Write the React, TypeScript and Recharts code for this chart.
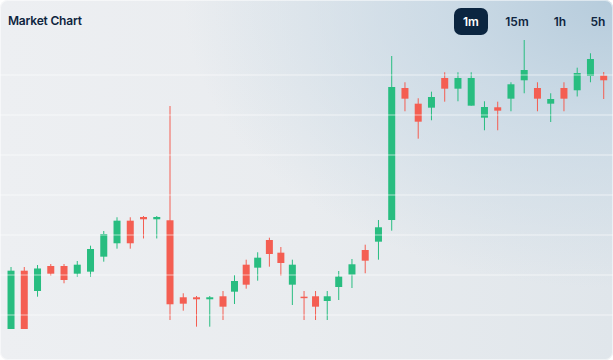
import { ComposedChart, Bar, XAxis, YAxis, ReferenceLine } from "recharts";

// candle timestamps (seconds from first candle)
const times = [
  0, 60, 120, 180, 240, 300, 360, 420, 480, 540, 600, 660, 720, 780, 840, 900, 960,
  1012, 1065, 1117, 1170, 1222, 1274, 1327, 1379, 1432, 1484,
  1544, 1604, 1664, 1724, 1784, 1844, 1904, 1964, 2024, 2084, 2144, 2204, 2264,
  2324, 2384, 2444, 2504, 2564, 2624, 2684,
];

const opens = [
  96.5, 111.08, 106, 112.25, 112.25, 110.33, 110.83, 114.58, 117.93, 123.58, 124.5, 123.93,
  123.68, 104.43, 104.43, 103.93, 104.68, 105.83, 112.58, 111.83, 118.75, 115.58, 107.58,
  104.58, 104.68, 103.5, 107, 110.08, 116.25, 118.33, 123.75, 156.75, 152.83, 151.83, 159.25,
  156.58, 152.33, 149.33, 151.93, 154.08, 158.68, 156.75, 152.83, 156.75, 156.18, 159.75, 159.83,
];

const highs = [
  112, 112, 112.5, 112.75, 112.75, 113.5, 117.33, 121, 124.43, 124.43, 124.75, 124.75,
  152.25, 105.43, 104.75, 104.75, 106, 110, 113.83, 115.68, 119.33, 117, 113.83,
  106, 106, 106, 111, 114, 117.58, 123.75, 164.75, 158.18, 154.18, 155.83, 160.68,
  160.68, 160.68, 153.43, 153.33, 158.18, 168.75, 158.18, 155.43, 158.18, 161.83, 165.43, 160.75,
];

const lows = [
  96.5, 96.5, 104.58, 109.83, 107.93, 109.58, 109.58, 113.33, 116.58, 116.58, 119.13, 119.13,
  98.75, 101.08, 97.08, 97.08, 98.75, 102.75, 106.58, 108.58, 112.08, 109.83, 102.5,
  98.75, 98.75, 98.75, 103.75, 106.75, 110.43, 113.83, 121.08, 150.93, 144.08, 148.68, 153.33,
  153.43, 152.33, 146.18, 146.18, 150.93, 155.43, 150.93, 148.25, 150.93, 154.63, 158.18, 154,
];

const closes = [
  111.08, 96.5, 111.63, 110.33, 108.75, 112.58, 116.5, 120.25, 123.58, 117.93, 123.93, 124.5,
  102.68, 102.83, 103.93, 104.43, 102.08, 108.5, 107.58, 114.33, 115.25, 113, 112.58,
  104.25, 102.08, 104.68, 109.58, 112.68, 113.58, 121.93, 157, 154.08, 148.33, 154.5, 156.58,
  159.25, 159.25, 152, 151.08, 157.68, 161.25, 154.08, 154, 154.08, 160.5, 164, 158.68,
];

const gridLevels = [100, 110, 120, 130, 140, 150, 160];
const intervals = ["1m", "15m", "1h", "5h"];

const UP = "#28bd80";
const DOWN = "#f45e52";

const candles = times.map((t, i) => ({
  t,
  open: opens[i],
  high: highs[i],
  low: lows[i],
  close: closes[i],
}));

const Candle = (props: any) => {
  const { x, y, width, height } = props;
  const p = props.payload ?? props;
  const up = p.close >= p.open;
  const color = up ? UP : DOWN;
  const k = height / (p.high - p.low || 1);
  const bodyTop = y + (p.high - Math.max(p.open, p.close)) * k;
  const bodyH = Math.max(Math.abs(p.open - p.close) * k, 1.5);
  const cx = x + width / 2;
  return (
    <g>
      <line x1={cx} x2={cx} y1={y} y2={y + height} stroke={color} strokeWidth={1} />
      <rect x={x} y={bodyTop} width={width} height={bodyH} fill={color} />
    </g>
  );
};

// button centers in the header
const btnCenters = [471, 517, 560, 598];

export default function App() {
  return (
    <div
      style={{
        position: "absolute",
        left: 0,
        top: 0,
        width: 613,
        height: 360,
        overflow: "hidden",
        borderRadius: 8,
        fontFamily: "Inter, 'Noto Sans', sans-serif",
        background:
          "radial-gradient(ellipse 70% 80% at 100% 0%, rgba(182,204,220,1) 0%, rgba(198,215,228,0.8) 40%, rgba(226,232,237,0) 100%), linear-gradient(90deg, #edeff2 0%, #e9ecef 50%, #e0e6eb 100%)",
        boxShadow: "inset 0 0 0 1px rgba(255,255,255,0.5)",
      }}
    >
      <div
        style={{
          position: "absolute",
          left: 8,
          top: 13,
          fontSize: 12,
          fontWeight: 600,
          color: "#0f2540",
          lineHeight: "16px",
          letterSpacing: -0.2,
        }}
      >
        Market Chart
      </div>
      {intervals.map((label, i) => {
        const active = i === 0;
        const w = label.length > 2 ? 40 : 34;
        return (
          <div
            key={label}
            style={{
              position: "absolute",
              left: btnCenters[i] - w / 2,
              top: 8,
              width: w,
              height: 27,
              borderRadius: 7,
              background: active ? "#0b2540" : "transparent",
              color: active ? "#ffffff" : "#0f2540",
              fontSize: 12,
              fontWeight: 600,
              lineHeight: "27px",
              textAlign: "center",
            }}
          >
            {label}
          </div>
        );
      })}
      <ComposedChart
        width={613}
        height={360}
        data={candles}
        margin={{ top: 0, right: 0, bottom: 0, left: 0 }}
        style={{ position: "absolute", left: 0, top: 0 }}
      >
        <XAxis dataKey="t" type="number" domain={[-51, 2725]} allowDataOverflow hide />
        <YAxis type="number" domain={[88.75, 178.75]} allowDataOverflow hide />
        {gridLevels.map((v) => (
          <ReferenceLine key={v} y={v} stroke="rgba(255,255,255,0.4)" strokeWidth={1.5} />
        ))}
        <Bar
          dataKey={(d: any) => [d.low, d.high]}
          barSize={7}
          shape={Candle}
          isAnimationActive={false}
        />
      </ComposedChart>
    </div>
  );
}
